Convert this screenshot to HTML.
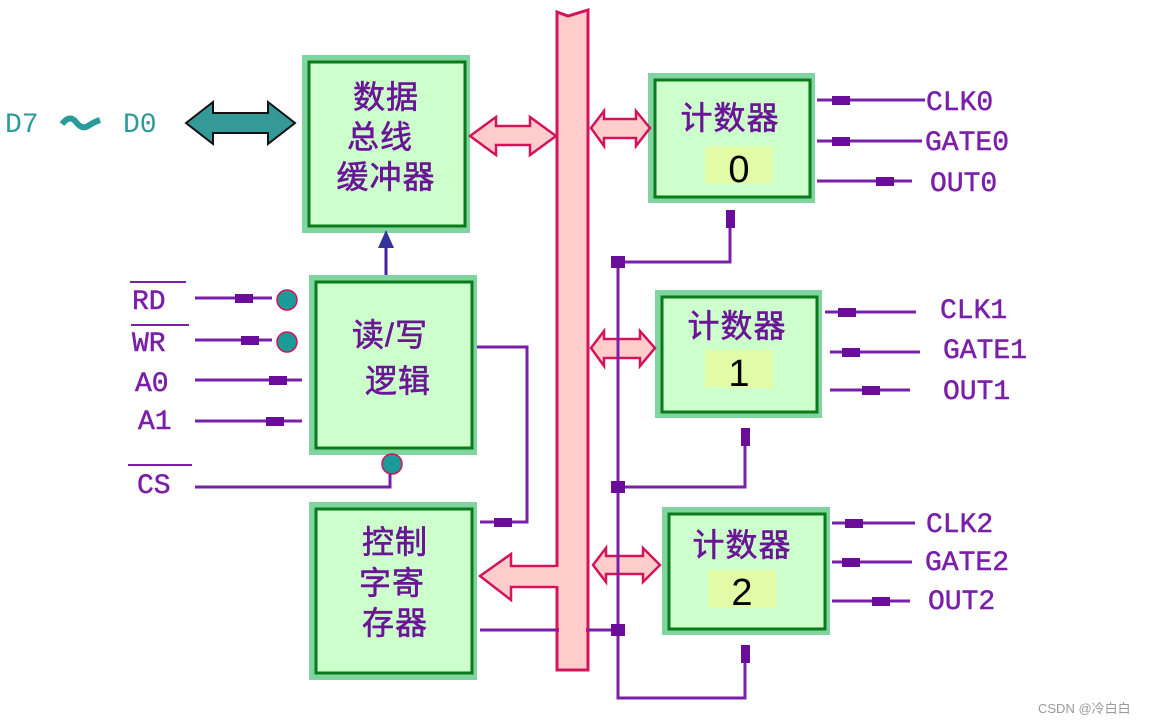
<!DOCTYPE html>
<html><head><meta charset="utf-8"><style>
html,body{margin:0;padding:0;background:#fff;}
svg{display:block;}
.cn{font-family:"Liberation Sans","Noto Sans CJK SC",sans-serif;font-size:32px;fill:#6a1596;stroke:#6a1596;stroke-width:0.6;letter-spacing:1px;}
.lb{font-family:"Liberation Mono",monospace;font-size:28px;fill:#7a1fa8;stroke:#7a1fa8;stroke-width:0.5;}
.num{font-family:"Liberation Sans",sans-serif;font-size:38px;fill:#000;}
.w{stroke:#7a1fa8;stroke-width:3;fill:none;}
.p{fill:#6a0d9a;}
</style></head><body>
<svg width="1151" height="725" viewBox="0 0 1151 725" xmlns="http://www.w3.org/2000/svg">
<!-- bus -->
<path d="M557,12 L568,16 L588,10 L588,670 L557,670 Z" fill="#ffcccc" stroke="#d4145a" stroke-width="3"/>

<!-- boxes -->
<g>
<rect x="302" y="55" width="168" height="178" fill="#7fd4a0"/><rect x="309" y="62" width="156" height="164" fill="#ccffcc" stroke="#0a7a1a" stroke-width="3"/>
<rect x="309" y="275" width="168" height="180" fill="#7fd4a0"/><rect x="316" y="282" width="156" height="166" fill="#ccffcc" stroke="#0a7a1a" stroke-width="3"/>
<rect x="309" y="502" width="168" height="178" fill="#7fd4a0"/><rect x="316" y="509" width="156" height="164" fill="#ccffcc" stroke="#0a7a1a" stroke-width="3"/>
<rect x="648" y="73" width="167" height="130" fill="#7fd4a0"/><rect x="655" y="80" width="155" height="117" fill="#ccffcc" stroke="#0a7a1a" stroke-width="3"/>
<rect x="655" y="290" width="167" height="128" fill="#7fd4a0"/><rect x="662" y="297" width="155" height="115" fill="#ccffcc" stroke="#0a7a1a" stroke-width="3"/>
<rect x="662" y="507" width="168" height="128" fill="#7fd4a0"/><rect x="669" y="514" width="156" height="115" fill="#ccffcc" stroke="#0a7a1a" stroke-width="3"/>
</g>
<rect x="705" y="146" width="68" height="38" fill="#e2fba6"/>
<rect x="705" y="350" width="68" height="38" fill="#e2fba6"/>
<rect x="708" y="570" width="68" height="38" fill="#e2fba6"/>

<!-- text in boxes -->
<text class="cn" x="386" y="108" text-anchor="middle">数据</text>
<text class="cn" x="380" y="148" text-anchor="middle">总线</text>
<text class="cn" x="386" y="188" text-anchor="middle">缓冲器</text>
<text class="cn" x="390" y="346" text-anchor="middle">读/写</text>
<text class="cn" x="398" y="392" text-anchor="middle">逻辑</text>
<text class="cn" x="395" y="553" text-anchor="middle">控制</text>
<text class="cn" x="392" y="594" text-anchor="middle">字寄</text>
<text class="cn" x="395" y="634" text-anchor="middle">存器</text>
<text class="cn" x="730" y="129" text-anchor="middle">计数器</text>
<text class="cn" x="737" y="337" text-anchor="middle">计数器</text>
<text class="cn" x="742" y="556" text-anchor="middle">计数器</text>
<text class="num" x="739" y="182" text-anchor="middle">0</text>
<text class="num" x="739" y="386" text-anchor="middle">1</text>
<text class="num" x="742" y="605" text-anchor="middle">2</text>

<!-- D7~D0 -->
<text x="5" y="132" font-family="Liberation Mono,monospace" font-size="28" fill="#2a9a9a">D7</text>
<path d="M62,124 q8,-10 14,-2 t12,4 q6,-4 12,-6" stroke="#2a9a9a" stroke-width="6" fill="none"/>
<text x="123" y="132" font-family="Liberation Mono,monospace" font-size="28" fill="#2a9a9a">D0</text>
<path d="M186,123 L213,102 L213,113 L268,113 L268,102 L295,123 L268,144 L268,133 L213,133 L213,144 Z" fill="#339a98" stroke="#111" stroke-width="2"/>

<!-- pink arrows -->
<path d="M470,136 L496,117 L496,126 L530,126 L530,117 L556,136 L530,155 L530,145 L496,145 L496,155 Z" fill="#ffcccc" stroke="#d4145a" stroke-width="2.5"/>
<path d="M591,128 L604,111 L604,119 L636,119 L636,111 L650,128 L636,146 L636,138 L604,138 L604,146 Z" fill="#ffcccc" stroke="#d4145a" stroke-width="2.5"/>
<path d="M591,348 L604,331 L604,339 L640,339 L640,331 L655,348 L640,366 L640,358 L604,358 L604,366 Z" fill="#ffcccc" stroke="#d4145a" stroke-width="2.5"/>
<path d="M593,565 L606,548 L606,556 L643,556 L643,548 L660,565 L643,582 L643,574 L606,574 L606,582 Z" fill="#ffcccc" stroke="#d4145a" stroke-width="2.5"/>
<path d="M480,576 L511,554 L511,566 L557,566 L557,587 L511,587 L511,600 Z" fill="#ffcccc" stroke="#d4145a" stroke-width="2.5"/>
<rect x="555" y="567" width="5" height="19" fill="#ffcccc"/>

<!-- blue arrow -->
<line x1="386" y1="275" x2="386" y2="248" stroke="#4a1fa0" stroke-width="3"/>
<path d="M378,248 L386,230 L394,248 Z" fill="#33339a"/>

<!-- purple wires -->
<g class="w">
<path d="M618,262 L618,698 L745,698 L745,655"/>
<path d="M618,262 L730,262 L730,220"/>
<path d="M618,487 L745,487 L745,440"/>
<path d="M480,630 L618,630"/>
<path d="M477,347 L527,347 L527,522 L480,522"/>
<path d="M195,487 L390,487 L390,470"/>
<path d="M195,298 L272,298"/>
<path d="M195,340 L272,340"/>
<path d="M195,380 L302,380"/>
<path d="M195,421 L302,421"/>
<path d="M817,100 L925,100"/>
<path d="M817,141 L922,141"/>
<path d="M817,181 L912,181"/>
<path d="M825,312 L916,312"/>
<path d="M830,352 L920,352"/>
<path d="M830,390 L910,390"/>
<path d="M832,523 L915,523"/>
<path d="M832,562 L912,562"/>
<path d="M832,601 L910,601"/>
</g>
<rect x="557" y="628" width="31" height="4" fill="#ffcccc"/>
<rect x="557" y="628" width="2" height="4" fill="#d4145a"/><rect x="586" y="628" width="2" height="4" fill="#d4145a"/>
<!-- junctions -->
<rect x="611" y="256" width="14" height="12" class="p"/>
<rect x="611" y="481" width="14" height="12" class="p"/>
<rect x="611" y="624" width="14" height="12" class="p"/>
<!-- small pin arrows -->
<g class="p">
<rect x="235" y="294" width="18" height="9"/><rect x="241" y="336" width="18" height="9"/>
<rect x="269" y="376" width="18" height="9"/><rect x="266" y="417" width="18" height="9"/>
<rect x="494" y="518" width="18" height="9"/>
<rect x="832" y="96" width="18" height="9"/><rect x="832" y="137" width="18" height="9"/><rect x="876" y="177" width="18" height="9"/>
<rect x="838" y="308" width="18" height="9"/><rect x="842" y="348" width="18" height="9"/><rect x="862" y="386" width="18" height="9"/>
<rect x="845" y="519" width="18" height="9"/><rect x="842" y="558" width="18" height="9"/><rect x="872" y="597" width="18" height="9"/>
<rect x="726" y="210" width="9" height="18"/><rect x="741" y="428" width="9" height="18"/><rect x="741" y="645" width="9" height="18"/>
</g>
<!-- circles -->
<g fill="#1a9a98" stroke="#d4145a" stroke-width="1.5">
<circle cx="287" cy="300" r="10"/><circle cx="287" cy="342" r="10"/><circle cx="392" cy="464" r="10"/>
</g>

<!-- left labels -->
<text class="lb" x="132" y="309">RD</text><line x1="130" y1="282" x2="186" y2="282" stroke="#7a1fa8" stroke-width="2"/>
<text class="lb" x="132" y="351">WR</text><line x1="131" y1="325" x2="189" y2="325" stroke="#7a1fa8" stroke-width="2"/>
<text class="lb" x="135" y="391">A0</text>
<text class="lb" x="138" y="429">A1</text>
<text class="lb" x="137" y="493">CS</text><line x1="128" y1="465" x2="192" y2="465" stroke="#7a1fa8" stroke-width="2"/>

<!-- right labels -->
<text class="lb" x="926" y="110">CLK0</text>
<text class="lb" x="925" y="150">GATE0</text>
<text class="lb" x="930" y="191">OUT0</text>
<text class="lb" x="940" y="318">CLK1</text>
<text class="lb" x="943" y="358">GATE1</text>
<text class="lb" x="943" y="399">OUT1</text>
<text class="lb" x="926" y="532">CLK2</text>
<text class="lb" x="925" y="570">GATE2</text>
<text class="lb" x="928" y="609">OUT2</text>

<text x="1038" y="713" font-family="Liberation Sans,Noto Sans CJK SC,sans-serif" font-size="13" fill="#999">CSDN @冷白白</text>
</svg>
</body></html>
